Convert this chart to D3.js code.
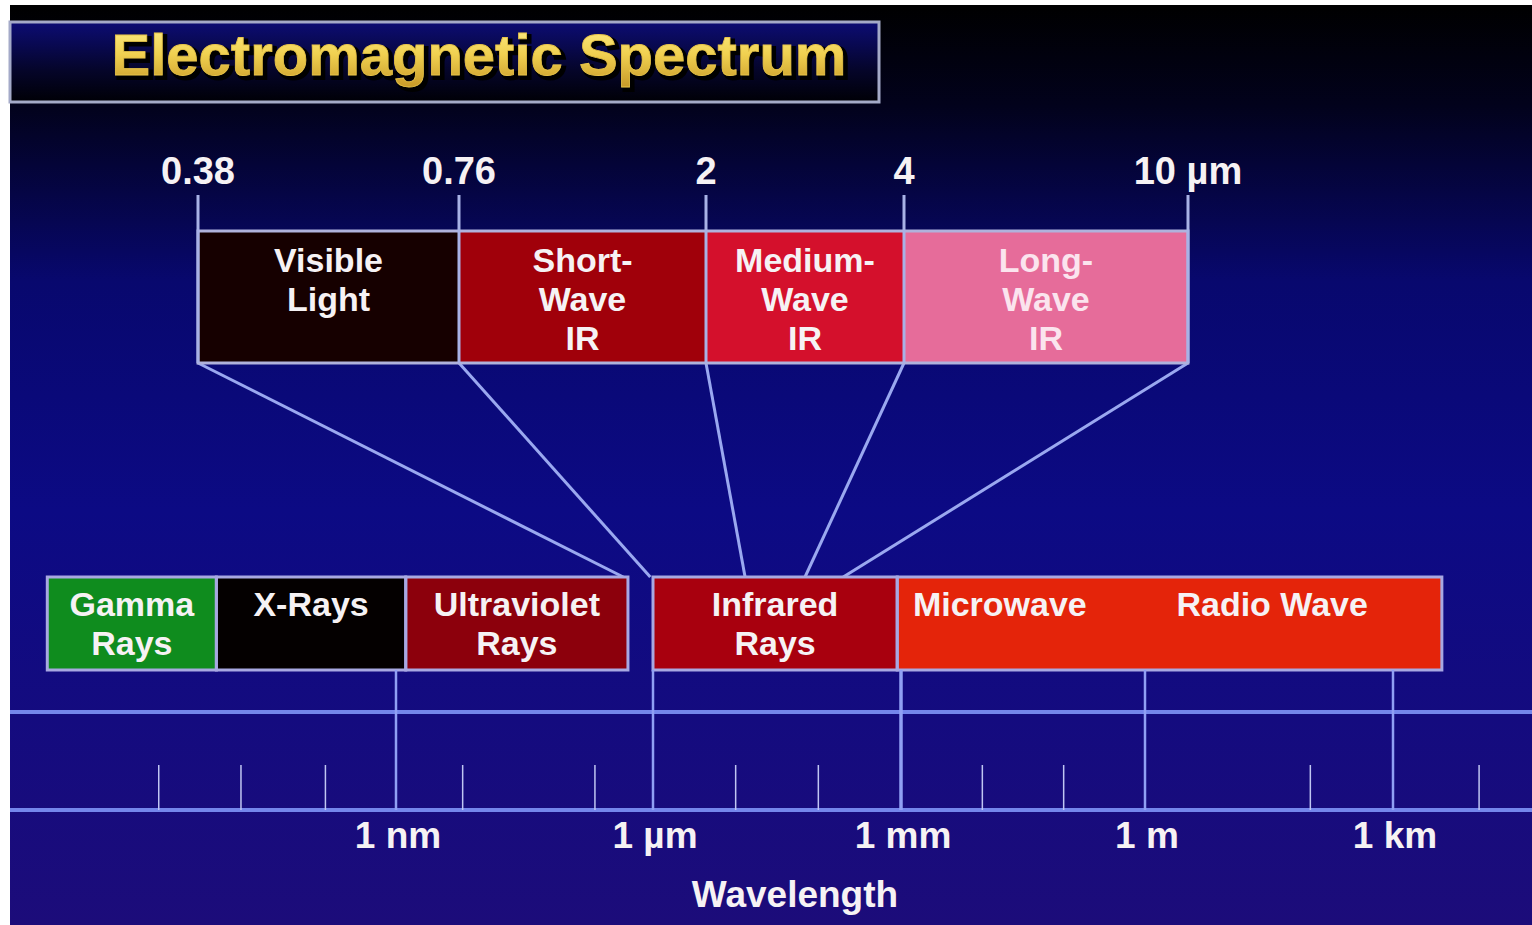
<!DOCTYPE html>
<html>
<head>
<meta charset="utf-8">
<script src="https://cdn.jsdelivr.net/npm/d3@7"></script>
<style>
	body { margin: 0; background: #fff; }
	text { font-family: "Liberation Sans", Arial, sans-serif; font-weight: bold; fill: #f6f2f4; }
</style>
</head>
<body>
<div class="chart"></div>
<script>
const width = 1532;
const height = 925;

// main bands, wavelength in metres
const bandLabels = [["Gamma", "Rays"], ["X-Rays"], ["Ultraviolet", "Rays"], ["Infrared", "Rays"], ["Microwave"], ["Radio Wave"]];
const bandFrom = [8.5e-14, 8e-12, 1.3e-9, 1e-6, 9e-4, 0.3];
const bandTo = [8e-12, 1.3e-9, 5.1e-7, 9e-4, 0.3, 3.9e3];
const bandColors = ["#0f8c1e", "#040000", "#8c000c", "#a8000e", "#e4240a", "#e4240a"];

// infrared detail, wavelength in µm
const irEdges = [0.38, 0.76, 2, 4, 10];
const irEdgeLabels = ["0.38", "0.76", "2", "4", "10 µm"];
const irLabels = [["Visible", "Light"], ["Short-", "Wave", "IR"], ["Medium-", "Wave", "IR"], ["Long-", "Wave", "IR"]];
const irColors = ["#160000", "#a0000a", "#d4102c", "#e66c9a"];
// where each detail edge line lands on the band row (metres)
const irLanding = [4.5e-7, 9.3e-7, 1.3e-5, 6.9e-5, 2e-4];

// wavelength axis
const majorTicks = [1e-9, 1e-6, 1e-3, 1, 1e3];
const majorLabels = ["1 nm", "1 µm", "1 mm", "1 m", "1 km"];
const minorTicks = [1.7e-12, 1.55e-11, 1.5e-10, 6e-9, 2.1e-7, 1e-5, 1e-4, 1e-2, 1e-1, 1e2, 1.1e4];

// layout
const detailTop = 231, detailBottom = 363;
const bandTop = 577, bandBottom = 670;
const axisTop = 712, axisBottom = 810;
const lineColor = "#9aa8f0";

const x = d3.scaleLog()
	.domain(majorTicks)
	.range([396, 653, 901, 1145, 1393]);

const xd = d3.scaleLog()
	.domain(irEdges)
	.range([198, 459, 706, 904, 1188]);

const svg = d3.select(".chart")
	.append("svg")
	.attr("width", width)
	.attr("height", height);

const defs = svg.append("defs");
const bg = defs.append("linearGradient")
	.attr("id", "bg").attr("x1", 0).attr("y1", 0).attr("x2", 0).attr("y2", 1);
[[0, "#000000"], [0.11, "#02021c"], [0.3, "#08086e"], [0.55, "#0c0a84"], [1, "#1c0c7a"]]
	.forEach(([o, c]) => bg.append("stop").attr("offset", o).attr("stop-color", c));

const tb = defs.append("linearGradient")
	.attr("id", "titlebox").attr("x1", 0).attr("y1", 0).attr("x2", 0).attr("y2", 1);
[[0, "#0c0c74"], [0.6, "#05052a"], [1, "#000006"]]
	.forEach(([o, c]) => tb.append("stop").attr("offset", o).attr("stop-color", c));

const gold = defs.append("linearGradient")
	.attr("id", "gold").attr("x1", 0).attr("y1", 0).attr("x2", 0).attr("y2", 1);
[[0, "#fff08a"], [0.5, "#f0d050"], [1, "#c89a28"]]
	.forEach(([o, c]) => gold.append("stop").attr("offset", o).attr("stop-color", c));

svg.append("rect")
	.attr("x", 10).attr("y", 5)
	.attr("width", width - 10).attr("height", height - 5)
	.attr("fill", "url(#bg)");

// title
svg.append("rect")
	.attr("x", 10).attr("y", 22)
	.attr("width", 869).attr("height", 80)
	.attr("fill", "url(#titlebox)")
	.attr("stroke", "#a4aac8")
	.attr("stroke-width", 3);

svg.append("text")
	.attr("x", 482).attr("y", 78)
	.attr("text-anchor", "middle")
	.style("font-size", "58px")
	.style("fill", "#000")
	.style("stroke", "#000")
	.style("stroke-width", 4)
	.text("Electromagnetic Spectrum");
svg.append("text")
	.attr("x", 479).attr("y", 75)
	.attr("text-anchor", "middle")
	.style("font-size", "58px")
	.style("fill", "url(#gold)")
	.style("stroke", "#e8c448")
	.style("stroke-width", 0.8)
	.text("Electromagnetic Spectrum");

// connecting lines from detail box to band row
svg.append("g")
	.selectAll("line")
	.data(irEdges)
	.enter()
	.append("line")
		.attr("x1", (d) => xd(d))
		.attr("y1", detailBottom)
		.attr("x2", (d, i) => x(irLanding[i]))
		.attr("y2", bandTop)
		.attr("stroke", lineColor)
		.attr("stroke-width", 3);

// detail boxes
const detail = svg.append("g");
detail.selectAll("rect")
	.data(irLabels)
	.enter()
	.append("rect")
		.attr("x", (d, i) => xd(irEdges[i]))
		.attr("y", detailTop)
		.attr("width", (d, i) => xd(irEdges[i + 1]) - xd(irEdges[i]))
		.attr("height", detailBottom - detailTop)
		.attr("fill", (d, i) => irColors[i]);

detail.append("rect")
	.attr("x", xd(irEdges[0]))
	.attr("y", detailTop)
	.attr("width", xd(irEdges[irEdges.length - 1]) - xd(irEdges[0]))
	.attr("height", detailBottom - detailTop)
	.attr("fill", "none")
	.attr("stroke", "#b0b2dc")
	.attr("stroke-width", 3);

detail.selectAll("line")
	.data(irEdges)
	.enter()
	.append("line")
		.attr("x1", (d) => xd(d)).attr("x2", (d) => xd(d))
		.attr("y1", 195).attr("y2", detailBottom)
		.attr("stroke", "#a8b2e6")
		.attr("stroke-width", 3);

detail.selectAll("text.edge")
	.data(irEdgeLabels)
	.enter()
	.append("text")
		.attr("class", "edge")
		.attr("x", (d, i) => xd(irEdges[i]))
		.attr("y", 184)
		.attr("text-anchor", "middle")
		.style("font-size", "38px")
		.text((d) => d);

irLabels.forEach((lines, i) => {
	const cx = (xd(irEdges[i]) + xd(irEdges[i + 1])) / 2;
	detail.append("text")
		.attr("x", cx)
		.attr("y", detailTop + 41)
		.attr("text-anchor", "middle")
		.style("font-size", "34px")
		.style("fill", i === 3 ? "#fbe4ee" : "#f6f2f4")
		.selectAll("tspan")
		.data(lines)
		.enter()
		.append("tspan")
			.attr("x", cx)
			.attr("dy", (d, j) => j === 0 ? 0 : 39)
			.text((d) => d);
});

// band row
const bands = svg.append("g");
bands.selectAll("rect")
	.data(bandLabels)
	.enter()
	.append("rect")
		.attr("x", (d, i) => Math.floor(x(bandFrom[i])))
		.attr("y", bandTop)
		.attr("width", (d, i) => Math.ceil(x(bandTo[i])) - Math.floor(x(bandFrom[i])))
		.attr("height", bandBottom - bandTop)
		.attr("fill", (d, i) => bandColors[i])
		.attr("shape-rendering", "crispEdges");

// outlines, merging neighbours of the same colour
const outlines = [];
bandFrom.forEach((f, i) => {
	const last = outlines[outlines.length - 1];
	if (last && bandColors[i] === bandColors[i - 1] && f === bandTo[i - 1]) last.to = bandTo[i];
	else outlines.push({ from: f, to: bandTo[i] });
});
bands.selectAll("rect.outline")
	.data(outlines)
	.enter()
	.append("rect")
		.attr("class", "outline")
		.attr("x", (d) => x(d.from))
		.attr("y", bandTop)
		.attr("width", (d) => x(d.to) - x(d.from))
		.attr("height", bandBottom - bandTop)
		.attr("fill", "none")
		.attr("stroke", "#a8a8e2")
		.attr("stroke-width", 3);

bandLabels.forEach((lines, i) => {
	const cx = (x(bandFrom[i]) + x(bandTo[i])) / 2;
	bands.append("text")
		.attr("x", cx)
		.attr("y", bandTop + 39)
		.attr("text-anchor", "middle")
		.style("font-size", "34px")
		.selectAll("tspan")
		.data(lines)
		.enter()
		.append("tspan")
			.attr("x", cx)
			.attr("dy", (d, j) => j === 0 ? 0 : 39)
			.text((d) => d);
});

// axis
const axis = svg.append("g");
axis.selectAll("line.rule")
	.data([axisTop, axisBottom])
	.enter()
	.append("line")
		.attr("class", "rule")
		.attr("x1", 10).attr("x2", width)
		.attr("y1", (d) => d).attr("y2", (d) => d)
		.attr("stroke", "#7486ec")
		.attr("stroke-width", 4);

axis.selectAll("line.major")
	.data(majorTicks)
	.enter()
	.append("line")
		.attr("class", "major")
		.attr("x1", (d) => x(d)).attr("x2", (d) => x(d))
		.attr("y1", bandBottom).attr("y2", axisBottom)
		.attr("stroke", "#90a0f4")
		.attr("stroke-width", (d) => d === 1e-3 ? 3.5 : 2.5);

axis.selectAll("line.minor")
	.data(minorTicks)
	.enter()
	.append("line")
		.attr("class", "minor")
		.attr("x1", (d) => x(d)).attr("x2", (d) => x(d))
		.attr("y1", 765).attr("y2", axisBottom)
		.attr("stroke", "#c0c6f2")
		.attr("stroke-width", 1.5);

axis.selectAll("text")
	.data(majorLabels)
	.enter()
	.append("text")
		.attr("x", (d, i) => x(majorTicks[i]) + 2)
		.attr("y", 848)
		.attr("text-anchor", "middle")
		.style("font-size", "37px")
		.text((d) => d);

svg.append("text")
	.attr("x", 795).attr("y", 907)
	.attr("text-anchor", "middle")
	.style("font-size", "37px")
	.text("Wavelength");
</script>
</body>
</html>
